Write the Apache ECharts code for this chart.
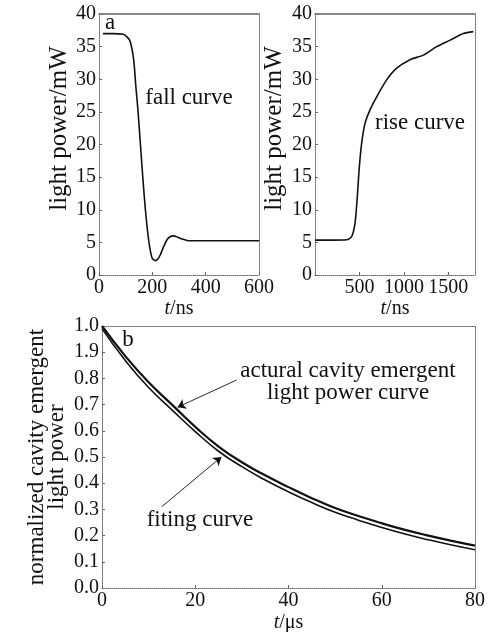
<!DOCTYPE html>
<html>
<head>
<meta charset="utf-8">
<script src="https://cdn.jsdelivr.net/npm/echarts@6/dist/echarts.min.js"></script>
<style>
  html, body { margin: 0; padding: 0; background: #fff; }
  #chart { width: 490px; height: 632px; }
</style>
</head>
<body>
<div id="chart"></div>
<script>
// panel a: fall curve, t/ns vs light power/mW
var fallTime  = [15, 50, 90, 105, 117, 130, 138, 146, 155, 164, 174, 186, 199, 211, 220, 230, 242, 255, 268, 280, 295, 312, 330, 350, 400, 500, 600];
var fallPower = [37, 37, 36.9, 36.5, 35.8, 33, 29, 25.3, 20.2, 15.1, 10, 5.4, 2.6, 2.2, 2.4, 3.1, 4.3, 5.4, 5.9, 6.0, 5.8, 5.5, 5.3, 5.25, 5.25, 5.25, 5.25];

// panel a right: rise curve
var riseTime  = [0, 200, 356, 413, 450, 476, 499, 525, 562, 619, 694, 806, 919, 1069, 1219, 1369, 1519, 1669, 1781];
var risePower = [5.35, 5.35, 5.4, 5.9, 7.9, 12.0, 16.6, 20.2, 23.2, 25.3, 27.3, 29.9, 31.7, 33.0, 33.7, 35.0, 36.0, 37.0, 37.3];

// panel b: normalized cavity emergent light power vs t/us
var decayTime   = [0, 5, 10, 15, 20, 25, 30, 35, 40, 45, 50, 55, 60, 65, 70, 75, 80];
var actualPower = [1.0, 0.885, 0.785, 0.70, 0.615, 0.54, 0.48, 0.43, 0.385, 0.343, 0.305, 0.275, 0.247, 0.222, 0.20, 0.18, 0.162];
var fitPower    = [0.99, 0.868, 0.765, 0.68, 0.597, 0.522, 0.463, 0.412, 0.367, 0.326, 0.289, 0.259, 0.231, 0.206, 0.184, 0.164, 0.146];

// tick labels of panel b y axis (as printed, incl. "1.9")
var decayTickLabels = ['0.0', '0.1', '0.2', '0.3', '0.4', '0.5', '0.6', '0.7', '0.8', '1.9', '1.0'];

var FONT = '"Liberation Serif", "Times New Roman", serif';

function zip(a, b) {
  return a.map(function (v, i) { return [v, b[i]]; });
}

var frameLine = { color: '#666', width: 1, type: 'dotted' };

function mainX(grid, min, max, interval, name, gap, extra) {
  var ax = {
    type: 'value', gridIndex: grid, position: 'bottom', min: min, max: max, interval: interval,
    name: name, nameLocation: 'middle', nameGap: gap, nameMoveOverlap: false,
    nameTextStyle: { fontFamily: FONT, fontSize: 20, color: '#111', rich: { i: { fontFamily: FONT, fontSize: 20, fontStyle: 'italic', color: '#111' } } },
    axisLine: { show: true, onZero: false, lineStyle: frameLine },
    axisTick: { show: true, inside: true, length: 3, lineStyle: { color: '#666' } },
    axisLabel: { fontFamily: FONT, fontSize: 20, color: '#111', margin: 3, formatter: function (v) { return String(v); } },
    splitLine: { show: false }
  };
  return Object.assign(ax, extra || {});
}

function mainY(grid, min, max, interval, extra) {
  var ax = {
    type: 'value', gridIndex: grid, position: 'left', min: min, max: max, interval: interval,
    nameLocation: 'middle', nameMoveOverlap: false,
    axisLine: { show: true, onZero: false, lineStyle: frameLine },
    axisTick: { show: true, inside: true, length: 3, lineStyle: { color: '#666' } },
    axisLabel: { fontFamily: FONT, fontSize: 20, color: '#111', margin: 3 },
    splitLine: { show: false }
  };
  return Object.assign(ax, extra || {});
}

function frameAxis(grid, pos, min, max, line) {
  return {
    type: 'value', gridIndex: grid, position: pos, min: min, max: max,
    axisLine: { show: true, onZero: false, lineStyle: line || frameLine },
    axisTick: { show: false }, axisLabel: { show: false }, splitLine: { show: false }
  };
}

var topSolid = { color: '#666', width: 1.5, type: 'solid' };

var arrowLine = { color: '#111', width: 0.9, type: 'solid' };

var option = {
  animation: false,
  backgroundColor: '#fff',
  grid: [
    { left: 99, top: 14, width: 160, height: 261, outerBoundsMode: 'none', containLabel: false },
    { left: 315, top: 14, width: 160, height: 261, outerBoundsMode: 'none', containLabel: false },
    { left: 102, top: 326, width: 373, height: 262, outerBoundsMode: 'none', containLabel: false }
  ],
  xAxis: [
    mainX(0, 0, 600, 200, '{i|t}/ns', 24),
    frameAxis(0, 'top', 0, 600, topSolid),
    mainX(1, 0, 1800, 500, '{i|t}/ns', 24, {
      axisLabel: {
        fontFamily: FONT, fontSize: 20, color: '#111', margin: 3,
        showMinLabel: false, showMaxLabel: false,
        formatter: function (v) { return String(v); }
      }
    }),
    frameAxis(1, 'top', 0, 1800, topSolid),
    mainX(2, 0, 80, 20, '{i|t}/\u03bcs', 25),
    frameAxis(2, 'top', 0, 80)
  ],
  yAxis: [
    mainY(0, 0, 40, 5, {
      name: 'light power/mW', nameGap: 27, nameRotate: 90,
      nameTextStyle: { fontFamily: FONT, fontSize: 25, color: '#111', padding: [0, 0, 0, 32] }
    }),
    frameAxis(0, 'right', 0, 40),
    mainY(1, 0, 40, 5, {
      name: 'light power/mW', nameGap: 28, nameRotate: 90,
      nameTextStyle: { fontFamily: FONT, fontSize: 25, color: '#111', padding: [0, 0, 0, 32] }
    }),
    frameAxis(1, 'right', 0, 40),
    mainY(2, 0, 1, 0.1, {
      name: 'normalized cavity emergent\nlight power', nameGap: 35, nameRotate: 90,
      nameTextStyle: { fontFamily: FONT, fontSize: 23, lineHeight: 20, color: '#111', align: 'center' },
      axisLabel: {
        fontFamily: FONT, fontSize: 20, color: '#111', margin: 3,
        formatter: function (v) { return decayTickLabels[Math.round(v * 10)]; }
      }
    }),
    frameAxis(2, 'right', 0, 1)
  ],
  series: [
    {
      name: 'fall curve', type: 'line', xAxisIndex: 0, yAxisIndex: 0,
      data: zip(fallTime, fallPower), showSymbol: false, smooth: 0.25,
      lineStyle: { color: '#111', width: 1.6 }
    },
    {
      name: 'rise curve', type: 'line', xAxisIndex: 2, yAxisIndex: 2,
      data: zip(riseTime, risePower), showSymbol: false, smooth: 0.25,
      lineStyle: { color: '#111', width: 1.6 }
    },
    {
      name: 'actural cavity emergent light power curve', type: 'line', xAxisIndex: 4, yAxisIndex: 4,
      data: zip(decayTime, actualPower), showSymbol: false, smooth: true,
      lineStyle: { color: '#111', width: 2.2 },
      markLine: {
        silent: true, symbol: ['none', 'arrow'], symbolSize: 8,
        label: { show: false },
        lineStyle: arrowLine,
        data: [[{ coord: [28.9, 0.794] }, { coord: [16.2, 0.69] }]]
      }
    },
    {
      name: 'fiting curve', type: 'line', xAxisIndex: 4, yAxisIndex: 4,
      data: zip(decayTime, fitPower), showSymbol: false, smooth: true,
      lineStyle: { color: '#111', width: 1.6 },
      markLine: {
        silent: true, symbol: ['none', 'arrow'], symbolSize: 8,
        label: { show: false },
        lineStyle: arrowLine,
        data: [[{ coord: [12.8, 0.31] }, { coord: [25.6, 0.5] }]]
      }
    }
  ],
  graphic: [
    { type: 'text', x: 110, y: 23, style: { text: 'a', fontFamily: FONT, fontSize: 23, fill: '#111', align: 'center', verticalAlign: 'middle' } },
    { type: 'text', x: 189, y: 98, style: { text: 'fall curve', fontFamily: FONT, fontSize: 23, fill: '#111', align: 'center', verticalAlign: 'middle' } },
    { type: 'text', x: 420, y: 123, style: { text: 'rise curve', fontFamily: FONT, fontSize: 23, fill: '#111', align: 'center', verticalAlign: 'middle' } },
    { type: 'text', x: 128, y: 340, style: { text: 'b', fontFamily: FONT, fontSize: 23, fill: '#111', align: 'center', verticalAlign: 'middle' } },
    { type: 'text', x: 348, y: 382, style: { text: 'actural cavity emergent\nlight power curve', fontFamily: FONT, fontSize: 23, lineHeight: 22, fill: '#111', align: 'center', verticalAlign: 'middle' } },
    { type: 'text', x: 200, y: 520, style: { text: 'fiting curve', fontFamily: FONT, fontSize: 23, fill: '#111', align: 'center', verticalAlign: 'middle' } }
  ]
};

var myChart = echarts.init(document.getElementById('chart'));
myChart.setOption(option);
</script>
</body>
</html>
